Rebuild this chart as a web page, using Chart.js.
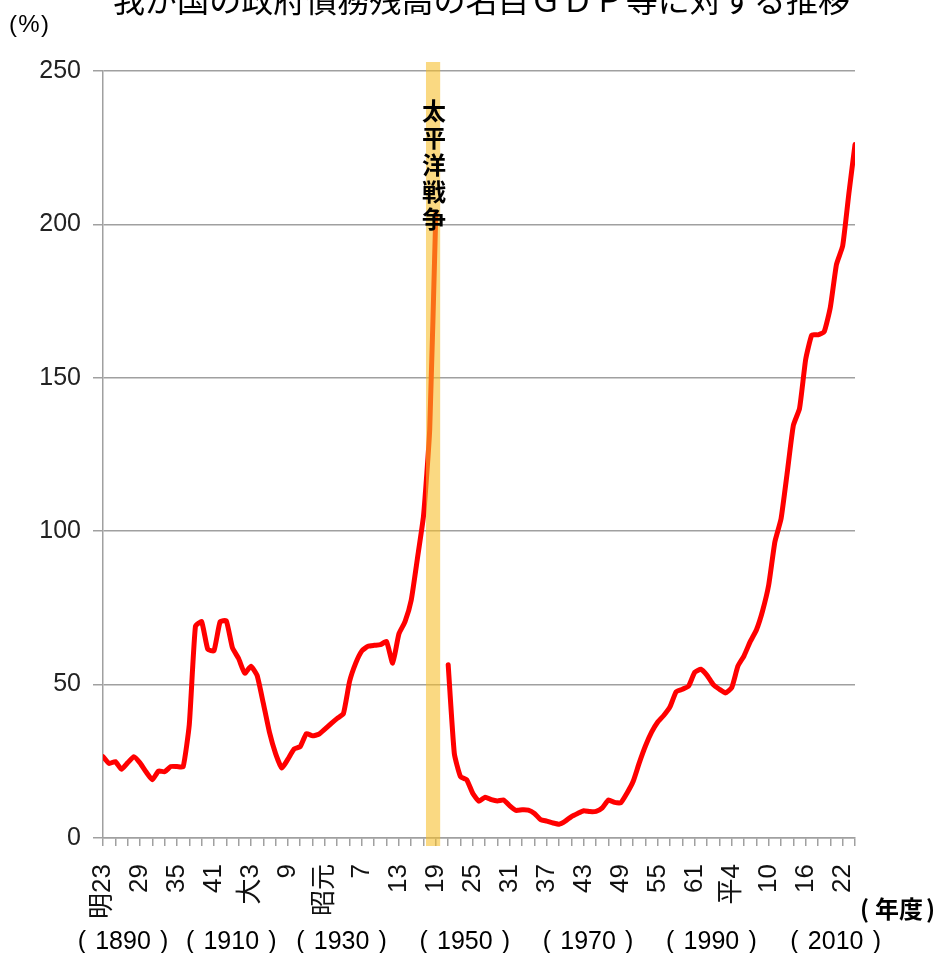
<!DOCTYPE html>
<html lang="ja">
<head>
<meta charset="utf-8">
<title>我が国の政府債務残高の名目ＧＤＰ等に対する推移</title>
<script src="https://cdn.jsdelivr.net/npm/chart.js@4.4.1/dist/chart.umd.min.js"></script>
<style>
  html, body { margin: 0; padding: 0; background: #fff; }
  #wrap { position: relative; width: 939px; height: 953px; }
</style>
</head>
<body>
<div id="wrap"><canvas id="debtChart" width="939" height="953"></canvas></div>
<script>
// 債務残高 / 名目GDP (%)  明治23年度(1890) 〜 平成24年度(2012)
var firstYear = 1890;
var lastYear = 2012;

var debtRatio = [
    // 1890-1899
    26.5, 24.3, 24.9, 22.4, 24.5, 26.5, 24.5, 21.5, 19.0, 21.8,
    // 1900-1909
    21.6, 23.3, 23.3, 23.2, 37.0, 69.0, 70.5, 61.5, 61.0, 70.5,
    // 1910-1919
    70.8, 62.0, 58.5, 53.7, 56.0, 53.0, 44.0, 34.5, 27.5, 22.8,
    // 1920-1929
    25.7, 29.0, 29.8, 34.0, 33.3, 33.8, 35.5, 37.3, 39.0, 40.5,
    // 1930-1939
    51.0, 57.0, 61.0, 62.5, 62.8, 63.0, 64.0, 57.0, 66.5, 70.5,
    // 1940-1949 (1945 欠落)
    77.5, 91.0, 105.0, 133.0, 204.0, null, 56.5, 27.5, 20.0, 19.0,
    // 1950-1959
    14.5, 12.0, 13.3, 12.5, 12.1, 12.4, 10.5, 9.0, 9.2, 9.1,
    // 1960-1969
    8.0, 6.0, 5.5, 4.9, 4.5, 5.5, 7.0, 8.0, 8.9, 8.6,
    // 1970-1979
    8.7, 9.8, 12.4, 11.6, 11.5, 14.6, 18.4, 24.5, 30.0, 34.5,
    // 1980-1989
    37.8, 40.0, 42.8, 47.7, 48.5, 49.5, 54.0, 55.0, 53.0, 50.0,
    // 1990-1999
    48.5, 47.3, 49.0, 56.0, 59.4, 64.0, 67.8, 74.0, 82.5, 96.5,
    // 2000-2012
    104.0, 119.0, 134.5, 140.0, 156.0, 164.0, 164.0, 165.0, 173.0, 187.0,
    193.0, 210.0, 226.0
];

// 和暦の目盛ラベル (6年おき)
var tickYears = [1890, 1896, 1902, 1908, 1914, 1920, 1926, 1932, 1938, 1944, 1950,
                 1956, 1962, 1968, 1974, 1980, 1986, 1992, 1998, 2004, 2010];
var tickLabels = ['明23', '29', '35', '41', '大3', '9', '昭元', '7', '13', '19', '25',
                  '31', '37', '43', '49', '55', '61', '平4', '10', '16', '22'];

// 西暦の補助ラベル
var westernYears = [1890, 1910, 1930, 1950, 1970, 1990, 2010];

var yTicks = [0, 50, 100, 150, 200, 250];

// 太平洋戦争の帯 (年)
var warSpan = [1942.4, 1944.7];
var warLabel = ['太', '平', '洋', '戦', '争'];

var titleText = '我が国の政府債務残高の名目ＧＤＰ等に対する推移';

var FONT = '"Liberation Sans", Arial, "Noto Sans CJK JP", sans-serif';
var JFONT = '"Noto Sans CJK JP", "Liberation Sans", sans-serif';
var GRID = '#a0a0a0';

var points = debtRatio.map(function (v, i) {
    return { x: firstYear + i, y: v };
});

// 全角括弧を広めに取って描く
function drawBracketed(ctx, text, cx, cy, halfGap) {
    ctx.textAlign = 'center';
    ctx.fillText(text, cx, cy);
    ctx.textAlign = 'right';
    ctx.fillText('(', cx - halfGap, cy);
    ctx.textAlign = 'left';
    ctx.fillText(')', cx + halfGap, cy);
}

// 帯・注記・タイトルなどの描画
var overlayPlugin = {
    id: 'overlay',
    afterDatasetsDraw: function (chart) {
        var ctx = chart.ctx;
        var xs = chart.scales.x, ys = chart.scales.y;
        var x0 = xs.getPixelForValue(warSpan[0]);
        var x1 = xs.getPixelForValue(warSpan[1]);
        var top = ys.getPixelForValue(yTicks[yTicks.length - 1]) - 9;
        var bottom = ys.getPixelForValue(0) + 8;
        ctx.save();
        ctx.fillStyle = 'rgba(246, 190, 40, 0.58)';
        ctx.fillRect(x0, top, x1 - x0, bottom - top);

        ctx.fillStyle = '#000';
        ctx.font = 'bold 24px ' + JFONT;
        ctx.textAlign = 'center';
        ctx.textBaseline = 'middle';
        var cx = (x0 + x1) / 2 + 1;
        warLabel.forEach(function (ch, i) {
            ctx.fillText(ch, cx, 111 + i * 27);
        });
        ctx.restore();
    },
    afterDraw: function (chart) {
        var ctx = chart.ctx;
        var xs = chart.scales.x;
        ctx.save();
        ctx.fillStyle = '#000';

        // title (upper half outside the frame)
        ctx.font = '32px ' + JFONT;
        ctx.textAlign = 'left';
        ctx.textBaseline = 'alphabetic';
        var w = ctx.measureText(titleText).width;
        ctx.save();
        ctx.translate(113, 12);
        ctx.scale(737 / w, 1);
        ctx.fillText(titleText, 0, 0);
        ctx.restore();

        ctx.textBaseline = 'middle';
        ctx.font = '24px ' + FONT;
        drawBracketed(ctx, '%', 29, 25, 12);

        ctx.font = 'bold 24px ' + JFONT;
        ctx.textAlign = 'left';
        ctx.fillText('年度', 875, 909);
        ctx.fillText('(', 860, 909);
        ctx.fillText(')', 926, 909);

        ctx.font = '25px ' + FONT;
        var nudge = [20, 5, -8, -8, -8, -8, -7];
        westernYears.forEach(function (yr, i) {
            drawBracketed(ctx, String(yr), xs.getPixelForValue(yr) + nudge[i], 942, 37);
        });
        ctx.restore();
    }
};

new Chart(document.getElementById('debtChart'), {
    type: 'line',
    data: {
        datasets: [{
            data: points,
            borderColor: '#ff0000',
            borderWidth: 5,
            pointRadius: 0,
            fill: false,
            spanGaps: false,
            tension: 0.15,
            borderJoinStyle: 'round',
            borderCapStyle: 'round'
        }]
    },
    options: {
        responsive: false,
        animation: false,
        layout: { padding: { top: 71, right: 84, left: 0, bottom: 0 } },
        plugins: {
            legend: { display: false },
            tooltip: { enabled: false }
        },
        scales: {
            x: {
                type: 'linear',
                min: firstYear,
                max: lastYear,
                afterFit: function (s) { s.height = 115; },
                afterBuildTicks: function (s) {
                    var t = [];
                    for (var y = firstYear; y <= lastYear; y += 2) t.push({ value: y });
                    s.ticks = t;
                },
                grid: {
                    drawOnChartArea: false,
                    drawTicks: true,
                    tickLength: 8,
                    tickColor: GRID,
                    lineWidth: 1.5
                },
                border: { display: true, color: GRID, width: 1.5 },
                ticks: {
                    autoSkip: false,
                    minRotation: 90,
                    maxRotation: 90,
                    padding: 18,
                    color: '#111',
                    font: { family: FONT, size: 26 },
                    callback: function (v) {
                        var i = tickYears.indexOf(v);
                        return i >= 0 ? tickLabels[i] : '';
                    }
                }
            },
            y: {
                min: 0,
                max: 250,
                afterFit: function (s) { s.width = 103; },
                afterBuildTicks: function (s) {
                    s.ticks = yTicks.map(function (v) { return { value: v }; });
                },
                grid: {
                    color: GRID,
                    lineWidth: 1.5,
                    tickLength: 10
                },
                border: { display: true, color: GRID, width: 1.5 },
                ticks: {
                    padding: 12,
                    color: '#222',
                    font: { family: FONT, size: 25 }
                }
            }
        }
    },
    plugins: [overlayPlugin]
});
</script>
</body>
</html>
